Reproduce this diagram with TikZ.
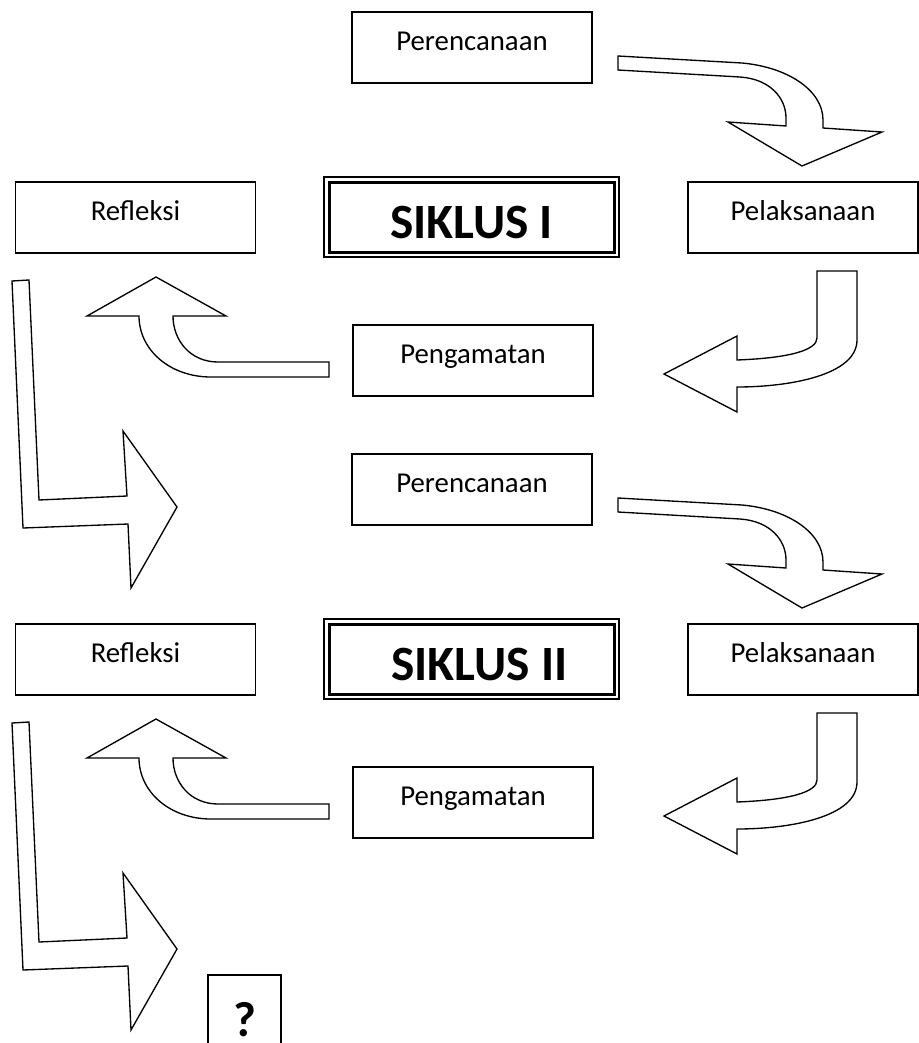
\documentclass[tikz,border=0pt]{standalone}
\usepackage{fontspec}
\setmainfont{Carlito}
\begin{document}
\begin{tikzpicture}[x=0.75pt, y=-0.75pt,
kotak/.style={draw, line width=1.1pt, inner sep=0pt, outer sep=0pt, minimum width=180pt,
  text height=28.5pt, text depth=24.75pt, font=\fontsize{21.6}{26}\selectfont},
judul/.style={draw, line width=0.9pt, inner sep=0pt, outer sep=0pt, minimum width=221.25pt,
  text height=45.75pt, text depth=14.25pt, font=\fontsize{37}{44}\selectfont\bfseries},
tanya/.style={draw, line width=1.1pt, inner sep=0pt, outer sep=0pt, minimum width=54.75pt,
  text height=45.75pt, text depth=24pt, font=\fontsize{37}{44}\selectfont\bfseries},
panah/.style={draw, line width=1pt, line join=miter, fill=white}]

\useasboundingbox (0,0) rectangle (919,1043);

\node[kotak, anchor=base] (renc1) at (472,50) {Perencanaan};
\node[kotak, anchor=base] (refl1) at (135.5,220) {Refleksi};
\node[judul, anchor=base] (siklus1) at (471.5,238) {SIKLUS I};
\node[kotak, anchor=base, minimum width=172.5pt] (laks1) at (803,220) {Pelaksanaan};
\node[kotak, anchor=base] (amat1) at (473,363) {Pengamatan};
\draw[line width=2.25pt] ([shift={(5,5)}]siklus1.north west) rectangle ([shift={(-5,-5)}]siklus1.south east);

\node[kotak, anchor=base] (renc2) at (472,492) {Perencanaan};
\node[kotak, anchor=base] (refl2) at (135.5,662) {Refleksi};
\node[judul, anchor=base] (siklus2) at (471.5,680) {\hspace{12pt}SIKLUS II};
\node[kotak, anchor=base, minimum width=172.5pt] (laks2) at (803,662) {Pelaksanaan};
\node[kotak, anchor=base] (amat2) at (473,805) {Pengamatan};
\draw[line width=2.25pt] ([shift={(5,5)}]siklus2.north west) rectangle ([shift={(-5,-5)}]siklus2.south east);

\node[tanya, anchor=base] (tanya) at (244.5,1036) {?};

\foreach \dy in {0,442} {
\begin{scope}[shift={(0,\dy)}]
\draw[panah] (618,56) -- (742,63) .. controls (787,67) and (823,90) .. (823,120) -- (823,128)
  -- (882,132) -- (802,166) -- (728,122) -- (786,126) -- (786,118)
  .. controls (786,98) and (770,79) .. (740,77) -- (618,70) -- cycle;
\draw[panah] (817,271) -- (857,271) -- (857,340) .. controls (857,375) and (790,387) .. (737,387)
  -- (737,412) -- (664,374) -- (737,336) -- (737,360)
  .. controls (790,358) and (817,350) .. (817,338) -- cycle;
\draw[panah] (329,362) -- (218,362) .. controls (190,362) and (173,340) .. (173,316)
  -- (226,316) -- (156,277) -- (87,316) -- (139,316)
  .. controls (139,350) and (170,377) .. (211,377) -- (329,377) -- cycle;
\draw[panah] (12,281) -- (29,280) -- (39,500) -- (127,496) -- (123,431) -- (177,507)
  -- (131,588) -- (128,524) -- (23,528) -- cycle;
\end{scope}
}

\end{tikzpicture}
\end{document}
